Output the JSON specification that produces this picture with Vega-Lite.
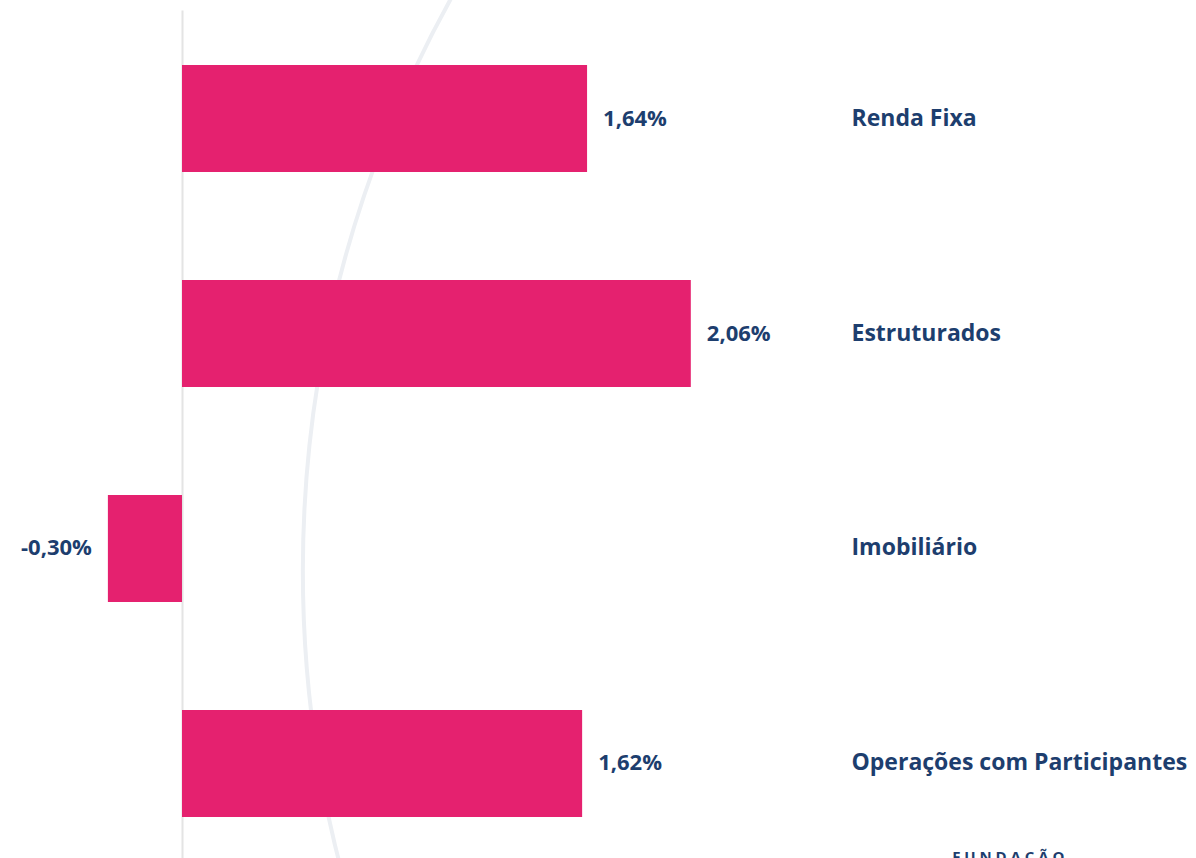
{
  "$schema": "https://vega.github.io/schema/vega-lite/v6.json",
  "width": 1196,
  "height": 862,
  "autosize": {"type": "none"},
  "padding": {"top": 10, "left": 0, "right": 0, "bottom": 0},
  "background": "white",
  "config": {"view": {"stroke": null}},
  "data": {"values": [
    {"category": "Renda Fixa", "value": 1.64, "label": "1,64%"},
    {"category": "Estruturados", "value": 2.06, "label": "2,06%"},
    {"category": "Imobiliário", "value": -0.30, "label": "-0,30%"},
    {"category": "Operações com Participantes", "value": 1.62, "label": "1,62%"}
  ]},
  "encoding": {
    "y": {
      "field": "category", "type": "nominal", "sort": null, "title": null,
      "scale": {"domain": ["Renda Fixa", "Estruturados", "Imobiliário", "Operações com Participantes"], "paddingInner": 0.502, "paddingOuter": 0.2558},
      "axis": {"orient": "left", "domain": false, "ticks": false, "labelAlign": "left", "labelBaseline": "middle", "labelPadding": -851, "labelFont": "Open Sans", "labelFontWeight": "bold", "labelFontSize": 23, "labelColor": "#1d3e6e", "labelLimit": 0}
    },
    "x": {
      "field": "value", "type": "quantitative", "title": null,
      "scale": {"domain": [-0.7368, 4.1053], "nice": false, "zero": false},
      "axis": {"values": [0], "grid": true, "gridColor": "#e4e4e4", "gridWidth": 2, "domain": false, "ticks": false, "labels": false}
    }
  },
  "layer": [
    {
      "transform": [{"filter": "datum.category === 'Imobiliário'"}],
      "mark": {"type": "point", "shape": "circle", "filled": false, "stroke": "#eceff3", "strokeWidth": 4, "size": 5570000, "xOffset": 1375, "yOffset": 22.5, "opacity": 1}
    },
    {
      "mark": {"type": "bar", "color": "#e5216f"}
    },
    {
      "transform": [{"filter": "datum.value >= 0"}],
      "mark": {"type": "text", "align": "left", "baseline": "middle", "dx": 16, "font": "Open Sans", "fontWeight": "bold", "fontSize": 22, "color": "#1d3e6e"},
      "encoding": {"text": {"field": "label"}}
    },
    {
      "transform": [{"filter": "datum.value < 0"}],
      "mark": {"type": "text", "align": "right", "baseline": "middle", "dx": -16, "font": "Open Sans", "fontWeight": "bold", "fontSize": 22, "color": "#1d3e6e"},
      "encoding": {"text": {"field": "label"}}
    },
    {
      "transform": [{"filter": "datum.category === 'Operações com Participantes'"}],
      "mark": {"type": "text", "align": "left", "baseline": "top", "dx": 370, "dy": 87, "font": "Open Sans", "fontWeight": "bold", "fontSize": 15, "color": "#1d3e6e", "text": "F U N D A Ç Ã O"}
    }
  ]
}
